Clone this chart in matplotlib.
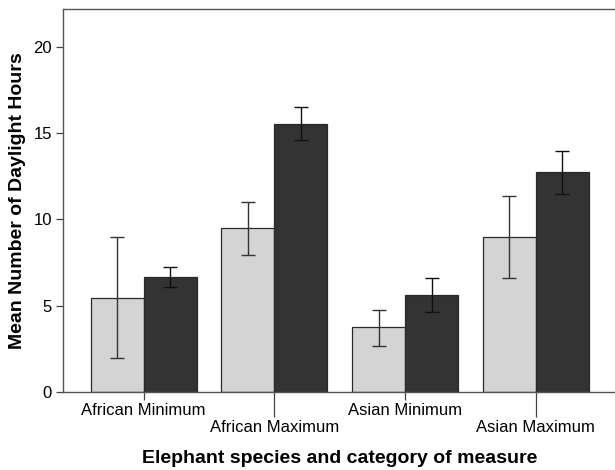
import matplotlib
matplotlib.use("Agg")
import matplotlib.pyplot as plt
import numpy as np

plt.rcParams['font.family'] = ['Liberation Sans', 'DejaVu Sans']

categories = ["African Minimum", "African Maximum", "Asian Minimum", "Asian Maximum"]
light_vals = [5.47, 9.49, 3.75, 8.99]
light_lo = [1.99, 7.94, 2.69, 6.59]
light_hi = [9.00, 11.01, 4.73, 11.34]
dark_vals = [6.67, 15.52, 5.62, 12.73]
dark_lo = [6.10, 14.59, 4.64, 11.48]
dark_hi = [7.25, 16.50, 6.63, 13.97]

fig = plt.figure(figsize=(6.15, 4.70), dpi=100)
ax = fig.add_axes([63/615, 78/470, 553.4/615, 383/470])

x = np.arange(len(categories))
w = 0.405
edge = '#2a2a2a'
lerr = [np.array(light_vals) - np.array(light_lo), np.array(light_hi) - np.array(light_vals)]
derr = [np.array(dark_vals) - np.array(dark_lo), np.array(dark_hi) - np.array(dark_vals)]
ax.bar(x - w/2, light_vals, w, color='#d4d4d4', edgecolor=edge, linewidth=0.9, zorder=2)
ax.bar(x + w/2, dark_vals, w, color='#333333', edgecolor=edge, linewidth=0.9, zorder=2)
ax.errorbar(x - w/2, light_vals, yerr=lerr, fmt='none', ecolor='#333333', elinewidth=1.0, capsize=4.7, capthick=1.0, zorder=3)
ax.errorbar(x + w/2, dark_vals, yerr=derr, fmt='none', ecolor='#111111', elinewidth=1.0, capsize=4.7, capthick=1.0, zorder=3)

ax.set_xlim(-0.617, 3.617)
ax.set_ylim(0, 22.2)
ax.set_yticks([0, 5, 10, 15, 20])
ax.tick_params(axis='y', length=5, width=0.9, color='#444444', labelsize=12, pad=3)

ax.set_xticks(x[0::2])
ax.set_xticklabels(categories[0::2])
ax.set_xticks(x[1::2], minor=True)
ax.set_xticklabels(categories[1::2], minor=True)
ax.tick_params(axis='x', which='major', length=5.8, width=0.9, color='#444444', labelsize=12, pad=2)
ax.tick_params(axis='x', which='minor', length=18, width=0.9, color='#444444', labelsize=12, pad=2)

for s in ['left', 'bottom', 'top']:
    ax.spines[s].set_color('#555555')
    ax.spines[s].set_linewidth(1.0)
ax.spines['right'].set_visible(False)

ax.set_xlabel("Elephant species and category of measure", fontsize=14, fontweight='bold', labelpad=11)
ax.set_ylabel("Mean Number of Daylight Hours", fontsize=14, fontweight='bold', labelpad=5)

fig.savefig("out.png", dpi=100)
